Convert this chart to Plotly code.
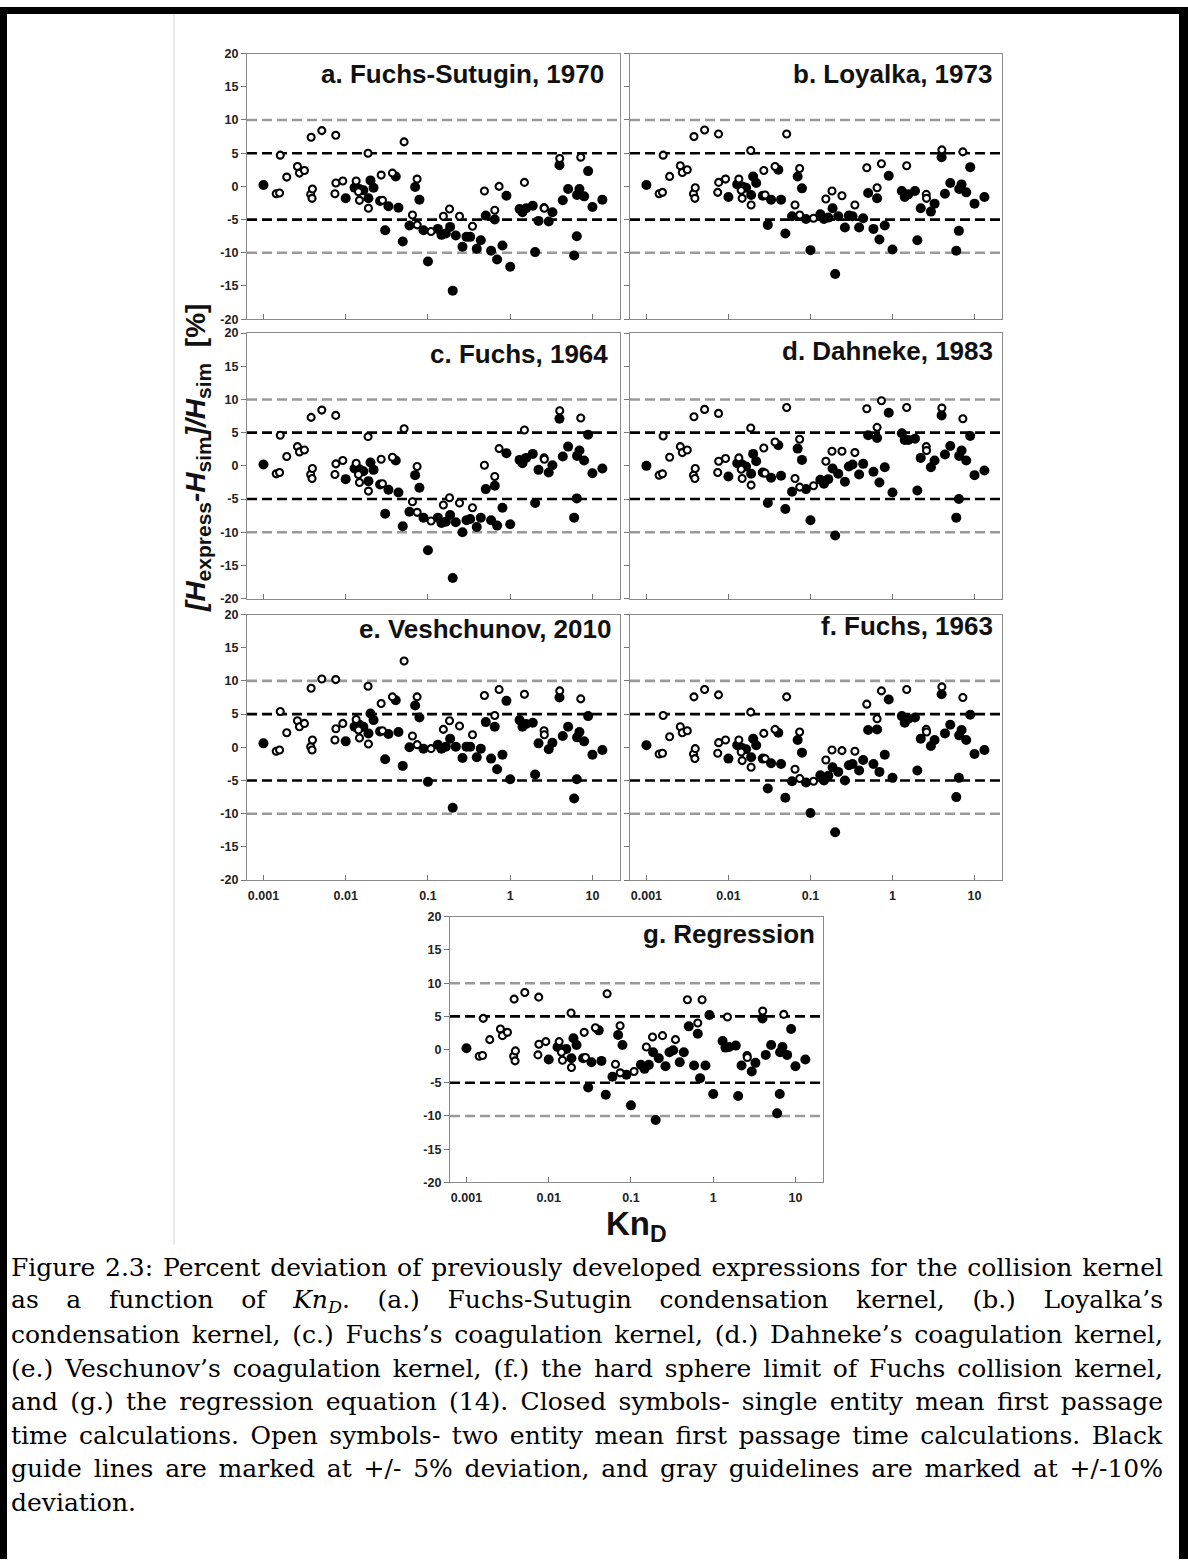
import plotly.graph_objects as go

W, H = 1188, 1566

# ---------------- data ----------------
kn_closed = [0.001, 0.01, 0.0128, 0.0147, 0.0164, 0.0189, 0.02, 0.0218, 0.0262, 0.0302,
             0.0331, 0.0406, 0.0438, 0.0494, 0.0596, 0.0698, 0.0788, 0.0882, 0.1, 0.132,
             0.146, 0.165, 0.186, 0.2, 0.218, 0.263, 0.294, 0.326, 0.392, 0.439,
             0.505, 0.586, 0.649, 0.693, 0.805, 0.9, 1.0, 1.3, 1.41, 1.56,
             1.88, 2.01, 2.21, 2.94, 3.26, 3.97, 4.36, 5.06, 5.99, 6.45,
             6.5, 6.95, 7.92, 8.86, 10.0, 13.2]

kn_open = [0.00143, 0.00157, 0.0016, 0.00192, 0.00259, 0.00274, 0.00315, 0.0038, 0.00375, 0.00394,
           0.0039, 0.00512, 0.00757, 0.0076, 0.0074, 0.00922, 0.0134, 0.0143, 0.0147, 0.0187,
           0.0189, 0.027, 0.028, 0.037, 0.0513, 0.0648, 0.0738, 0.074, 0.109, 0.154,
           0.183, 0.242, 0.348, 0.486, 0.649, 0.733, 1.49, 2.58, 2.6, 4.0,
           7.21]

dev_closed_a = [0.2, -1.8, -0.2, -0.4, -0.6, -1.8, 0.9, -0.2, -2.2, -6.6,
                -3.0, 1.5, -3.2, -8.3, -5.9, -0.1, -2.0, -6.6, -11.3, -6.4,
                -7.3, -7.1, -6.1, -15.7, -7.4, -9.1, -7.6, -7.6, -9.4, -8.1,
                -4.4, -9.7, -5.0, -11.0, -8.9, -1.4, -12.1, -3.4, -3.9, -3.3,
                -2.9, -9.9, -5.2, -5.3, -3.9, 3.2, -2.1, -0.4, -10.4, -7.5,
                -1.3, -0.4, -1.5, 2.3, -3.1, -2.0]
dev_open_a = [-1.1, -1.0, 4.7, 1.4, 3.0, 2.0, 2.4, 7.4, -1.2, -0.4,
              -1.8, 8.4, 7.7, 0.5, -1.1, 0.8, 0.8, -0.8, -2.1, 5.0,
              -3.3, 1.7, -2.1, 2.0, 6.7, -4.3, 1.1, -5.8, -6.8, -4.5,
              -3.4, -4.5, -6.0, -0.7, -3.6, 0.0, 0.6, -3.2, -3.3, 4.2,
              4.4]

dev_closed_b = [0.2, -1.6, 0.3, 0.0, -0.2, -1.3, 1.5, 0.5, -1.4, -5.8,
                -2.0, 2.5, -2.0, -7.1, -4.5, 1.5, -0.3, -4.9, -9.6, -4.2,
                -4.9, -4.7, -3.3, -13.2, -4.5, -6.2, -4.4, -4.5, -6.2, -4.8,
                -1.0, -6.4, -1.8, -8.0, -5.9, 1.6, -9.5, -0.7, -1.6, -1.2,
                -0.7, -8.1, -3.3, -3.8, -2.6, 4.4, -1.1, 0.5, -9.7, -6.7,
                -0.4, 0.3, -0.9, 2.9, -2.6, -1.6]
dev_open_b = [-1.1, -0.9, 4.7, 1.5, 3.1, 2.1, 2.5, 7.5, -1.1, -0.2,
              -1.8, 8.5, 7.9, 0.6, -0.9, 1.1, 1.1, -0.6, -1.8, 5.4,
              -2.8, 2.4, -1.3, 3.0, 7.9, -2.8, 2.7, -4.3, -4.8, -1.9,
              -0.7, -1.4, -2.8, 2.8, -0.2, 3.4, 3.1, -1.2, -1.8, 5.5,
              5.2]

dev_closed_c = [0.2, -2.0, -0.4, -0.5, -0.8, -2.3, 0.5, -0.6, -2.8, -7.2,
                -3.6, 0.8, -4.0, -9.1, -6.9, -1.4, -3.3, -7.8, -12.7, -7.8,
                -8.6, -8.4, -7.4, -16.9, -8.5, -10.0, -8.2, -8.0, -9.2, -7.8,
                -3.5, -8.2, -3.0, -9.0, -6.3, 1.9, -8.8, 0.9, 0.4, 1.2,
                1.8, -5.6, -0.6, -1.0, 0.1, 7.1, 1.4, 2.9, -7.8, -4.9,
                1.5, 2.3, 0.8, 4.7, -1.1, -0.4]
dev_open_c = [-1.2, -1.0, 4.6, 1.4, 2.9, 2.1, 2.4, 7.3, -1.3, -0.4,
              -1.9, 8.4, 7.6, 0.3, -1.3, 0.8, 0.4, -1.3, -2.5, 4.4,
              -3.8, 1.0, -2.7, 1.3, 5.6, -5.4, -0.1, -7.0, -8.3, -5.9,
              -4.8, -5.6, -6.3, 0.1, -1.6, 2.6, 5.4, 1.2, 1.0, 8.3,
              7.2]

dev_closed_d = [0.0, -1.6, 0.4, 0.2, -0.1, -1.2, 1.8, 0.7, -1.0, -5.6,
                -1.8, 3.1, -1.5, -6.5, -3.9, 2.6, 0.9, -3.5, -8.2, -2.1,
                -2.7, -2.0, -0.4, -10.5, -1.2, -2.4, -0.1, 0.2, -1.3, 0.3,
                4.6, -0.9, 4.2, -2.5, -0.2, 8.0, -4.0, 4.9, 3.9, 3.9,
                4.1, -3.7, 1.2, -0.2, 0.8, 7.6, 1.7, 3.0, -7.8, -5.0,
                1.5, 2.3, 0.8, 4.5, -1.4, -0.7]
dev_open_d = [-1.4, -1.2, 4.5, 1.3, 2.9, 2.0, 2.4, 7.4, -1.4, -0.4,
              -1.9, 8.5, 7.9, 0.7, -1.0, 1.1, 1.2, -0.5, -1.9, 5.7,
              -2.9, 2.7, -1.1, 3.6, 8.8, -1.9, 4.0, -3.2, -3.0, 0.7,
              2.2, 2.2, 2.0, 8.6, 5.8, 9.8, 8.8, 2.9, 2.3, 8.7,
              7.1]

dev_closed_e = [0.6, 0.9, 3.1, 3.4, 3.1, 2.1, 5.1, 4.1, 2.4, -1.8,
                2.0, 7.1, 2.3, -2.8, 0.0, 6.3, 4.5, -0.2, -5.2, 0.4,
                -0.2, 0.1, 1.3, -9.1, 0.1, -1.6, 0.1, 0.1, -1.5, -0.2,
                3.8, -1.7, 3.1, -3.3, -1.1, 7.0, -4.8, 4.1, 3.1, 3.5,
                3.7, -4.1, 0.6, -0.3, 0.7, 7.5, 1.7, 3.1, -7.7, -4.8,
                1.5, 2.3, 0.9, 4.7, -1.1, -0.4]
dev_open_e = [-0.6, -0.4, 5.4, 2.2, 4.0, 3.1, 3.6, 8.9, 0.1, 1.1,
              -0.4, 10.3, 10.2, 2.8, 1.1, 3.6, 4.2, 2.6, 1.4, 9.2,
              0.5, 6.6, 2.5, 7.6, 13.0, 1.7, 7.6, 0.4, -0.2, 2.7,
              4.0, 3.2, 1.9, 7.8, 4.8, 8.7, 8.0, 2.5, 1.9, 8.5,
              7.3]

dev_closed_f = [0.3, -1.7, 0.3, -0.1, -0.3, -1.5, 1.3, 0.3, -1.7, -6.2,
                -2.4, 2.2, -2.5, -7.6, -5.1, 1.1, -0.8, -5.3, -9.9, -4.2,
                -5.0, -4.3, -3.0, -12.8, -3.7, -5.0, -2.7, -2.5, -3.5, -1.9,
                2.6, -2.5, 2.7, -3.7, -1.1, 7.2, -4.6, 4.7, 3.7, 4.3,
                4.5, -3.5, 1.3, 0.2, 1.1, 8.0, 2.1, 3.4, -7.5, -4.6,
                1.8, 2.6, 1.1, 4.9, -1.0, -0.4]
dev_open_f = [-1.0, -0.9, 4.8, 1.6, 3.1, 2.2, 2.5, 7.6, -1.0, -0.2,
              -1.7, 8.7, 7.9, 0.7, -0.9, 1.1, 1.1, -0.7, -2.0, 5.3,
              -3.0, 2.1, -1.7, 2.7, 7.6, -3.3, 2.3, -4.7, -5.1, -1.9,
              -0.4, -0.5, -0.6, 6.5, 4.3, 8.5, 8.7, 2.7, 2.3, 9.1,
              7.5]

dev_closed_g = [0.2, -1.5, 0.4, 0.0, 0.1, -1.3, 1.7, 0.7, -1.3, -5.7,
                -1.9, 2.9, -1.7, -6.8, -4.1, 2.2, 0.7, -3.8, -8.4, -2.3,
                -2.9, -2.3, -0.4, -10.6, -1.3, -2.5, -0.4, -0.1, -1.9, -0.4,
                3.5, -2.4, 2.4, -4.3, -2.4, 5.2, -6.7, 1.3, 0.3, 0.4,
                0.6, -7.0, -2.4, -3.3, -2.0, 4.7, -0.8, 0.7, -9.6, -6.7,
                -0.4, 0.4, -0.8, 3.1, -2.5, -1.5]
dev_open_g = [-1.0, -0.9, 4.7, 1.5, 3.1, 2.1, 2.6, 7.6, -1.0, -0.2,
              -1.7, 8.6, 7.9, 0.8, -0.8, 1.2, 1.2, -0.4, -1.6, 5.5,
              -2.7, 2.6, -1.2, 3.3, 8.4, -2.2, 3.6, -3.5, -3.3, 0.4,
              1.9, 2.1, 1.5, 7.5, 4.0, 7.5, 4.9, -0.9, -1.2, 5.8,
              5.3]

panel_titles = ["a. Fuchs-Sutugin, 1970", "b. Loyalka, 1973", "c. Fuchs, 1964",
                "d. Dahneke, 1983", "e. Veshchunov, 2010", "f. Fuchs, 1963", "g. Regression"]
closed_series = [dev_closed_a, dev_closed_b, dev_closed_c, dev_closed_d,
                 dev_closed_e, dev_closed_f, dev_closed_g]
open_series = [dev_open_a, dev_open_b, dev_open_c, dev_open_d,
               dev_open_e, dev_open_f, dev_open_g]

y_tick_vals = [-20, -15, -10, -5, 0, 5, 10, 15, 20]
y_tick_text = ["-20", "-15", "-10", "-5", "0", "5", "10", "15", "20"]
x_tick_vals = [0.001, 0.01, 0.1, 1, 10]
x_tick_text = ["0.001", "0.01", "0.1", "1", "10"]
guide_black = [5, -5]
guide_gray = [10, -10]

caption_lines = [
    "Figure 2.3: Percent deviation of previously developed expressions for the collision kernel",
    "as a function of <i>Kn<sub>D</sub></i>. (a.) Fuchs-Sutugin condensation kernel, (b.) Loyalka\u2019s",
    "condensation kernel, (c.) Fuchs\u2019s coagulation kernel, (d.) Dahneke\u2019s coagulation kernel,",
    "(e.) Veschunov\u2019s coagulation kernel, (f.) the hard sphere limit of Fuchs collision kernel,",
    "and (g.) the regression equation (14). Closed symbols- single entity mean first passage",
    "time calculations. Open symbols- two entity mean first passage time calculations. Black",
    "guide lines are marked at +/- 5% deviation, and gray guidelines are marked at +/-10%",
    "deviation.",
]

# ---------------- layout geometry (pixels) ----------------
boxes = [(247, 620, 47, 315), (630, 1002, 47, 315),
         (247, 620, 329, 597), (630, 1002, 329, 597),
         (247, 620, 613, 881), (630, 1002, 613, 881),
         (450, 823, 918, 1186)]
title_pos = [(0.962, 0.925), (0.979, 0.925), (0.973, 0.92), (0.98, 0.933),
             (0.98, 0.944), (0.98, 0.955), (0.984, 0.937)]
show_y_labels = [True, False, True, False, True, False, True]
show_x_labels = [False, False, False, False, True, True, True]

SANS = "Arial, Liberation Sans, sans-serif"
SERIF = "DejaVu Serif, Georgia, serif"

fig = go.Figure()
layout = dict(width=W, height=H, margin=dict(l=0, r=0, t=0, b=0),
              paper_bgcolor="white", plot_bgcolor="white", showlegend=False)
shapes = []
annotations = []

for i in range(7):
    n = i + 1
    xs = "" if n == 1 else str(n)
    x0, x1, y0, y1 = boxes[i]
    xa = dict(type="log", range=[-3.2, 1.335],
              domain=[x0 / W, x1 / W], anchor="y" + xs,
              showline=True, linecolor="#8a8a8a", linewidth=1.2, mirror=True,
              showgrid=False, zeroline=False,
              ticks="inside", ticklen=5, tickcolor="#777", tickwidth=1,
              tickvals=x_tick_vals, ticktext=x_tick_text,
              showticklabels=show_x_labels[i], ticklabelstandoff=4,
              tickfont=dict(family=SANS, size=12.5, color="#222", weight="bold"))
    ya = dict(range=[-20, 20], domain=[1 - y1 / H, 1 - y0 / H], anchor="x" + xs,
              showline=True, linecolor="#8a8a8a", linewidth=1.2, mirror=True,
              showgrid=False, zeroline=False,
              ticks="outside", ticklen=5, tickcolor="#777", tickwidth=1,
              tickvals=y_tick_vals, ticktext=y_tick_text,
              showticklabels=show_y_labels[i],
              tickfont=dict(family=SANS, size=12.5, color="#222", weight="bold"))
    layout["xaxis" + xs] = xa
    layout["yaxis" + xs] = ya

    fig.add_trace(go.Scatter(x=kn_closed, y=closed_series[i], mode="markers",
                             xaxis="x" + xs, yaxis="y" + xs,
                             marker=dict(symbol="circle", size=10, color="black",
                                         line=dict(width=0))))
    fig.add_trace(go.Scatter(x=kn_open, y=open_series[i], mode="markers",
                             xaxis="x" + xs, yaxis="y" + xs,
                             marker=dict(symbol="circle", size=7, color="white",
                                         line=dict(width=2.1, color="black"))))

    for v in guide_gray:
        shapes.append(dict(type="line", xref="x%s domain" % xs, yref="y" + xs,
                           x0=0, x1=1, y0=v, y1=v, layer="below",
                           line=dict(color="#9a9a9a", width=2.6, dash="10px,5px")))
    for v in guide_black:
        shapes.append(dict(type="line", xref="x%s domain" % xs, yref="y" + xs,
                           x0=0, x1=1, y0=v, y1=v, layer="below",
                           line=dict(color="black", width=2.6, dash="10px,5px")))

    tx, ty = title_pos[i]
    annotations.append(dict(text="<b>%s</b>" % panel_titles[i], xref="x%s domain" % xs,
                            yref="y%s domain" % xs, x=tx, y=ty, xanchor="right",
                            yanchor="middle", showarrow=False,
                            font=dict(family=SANS, size=26, color="#111")))

# axis titles
annotations.append(dict(
    text="<b><i>[H</i><sub><span style=\"font-size:21px\">express</span></sub>"
         "<i>-H</i><sub><span style=\"font-size:21px\">sim</span></sub>"
         "<i>]/H</i><sub><span style=\"font-size:21px\">sim</span></sub>\u00a0\u00a0[%]</b>",
    xref="paper", yref="paper", x=198 / W, y=1 - 455 / H, textangle=-90,
    xanchor="center", yanchor="middle", showarrow=False,
    font=dict(family=SANS, size=28, color="#111")))
annotations.append(dict(text="<b>Kn<sub>D</sub></b>", xref="paper", yref="paper",
                        x=636 / W, y=1 - 1230 / H, xanchor="center", yanchor="middle",
                        showarrow=False, borderpad=0,
                        font=dict(family=SANS, size=33, color="#111")))

# caption
cap_start = len(annotations)
for k, line in enumerate(caption_lines):
    annotations.append(dict(text=line, xref="paper", yref="paper",
                            x=9 / W, y=1 - (1272 + k * 33.8) / H,
                            xanchor="left", yanchor="middle", align="left",
                            showarrow=False,
                            font=dict(family=SERIF, size=25, color="black")))
justify_idx = list(range(cap_start, cap_start + len(caption_lines) - 1))

# page frame and faint separator
shapes.append(dict(type="rect", xref="paper", yref="paper", x0=0, x1=7 / W, y0=0, y1=1,
                   fillcolor="black", line=dict(width=0), layer="above"))
shapes.append(dict(type="rect", xref="paper", yref="paper", x0=1179 / W, x1=1, y0=0, y1=1,
                   fillcolor="black", line=dict(width=0), layer="above"))
shapes.append(dict(type="rect", xref="paper", yref="paper", x0=0, x1=1, y0=1 - 7 / H, y1=1,
                   fillcolor="black", line=dict(width=0), layer="above"))
shapes.append(dict(type="line", xref="paper", yref="paper", x0=174 / W, x1=174 / W,
                   y0=1 - 1249 / H, y1=1 - 7 / H, line=dict(color="#d4d4d4", width=1)))

layout["shapes"] = shapes
layout["annotations"] = annotations
fig.update_layout(**layout)

js = """
(function(){
  var gd = document.getElementById('{plot_id}');
  var idx = %s;
  var target = 1152;
  function justify(){
    try {
      idx.forEach(function(k){
        var g = gd.querySelector('g.annotation[data-index="' + k + '"]');
        if(!g) return;
        var t = g.querySelector('text.annotation-text');
        if(!t) return;
        if(t.__origT === undefined) t.__origT = t.getAttribute('transform') || '';
        t.style.wordSpacing = '0px';
        t.setAttribute('transform', t.__origT);
        var b0 = t.getBBox();
        var n = (t.textContent.match(/ /g) || []).length;
        if(n === 0) return;
        t.style.wordSpacing = ((target - b0.width) / n) + 'px';
        var b1 = t.getBBox();
        var dx = b0.x - b1.x;
        t.setAttribute('transform', t.__origT + ' translate(' + dx + ',0)');
      });
    } catch(e) {}
  }
  justify();
  setTimeout(justify, 50);
  setTimeout(justify, 300);
})();
""" % str(justify_idx)

fig.write_html("out.html", post_script=js)
